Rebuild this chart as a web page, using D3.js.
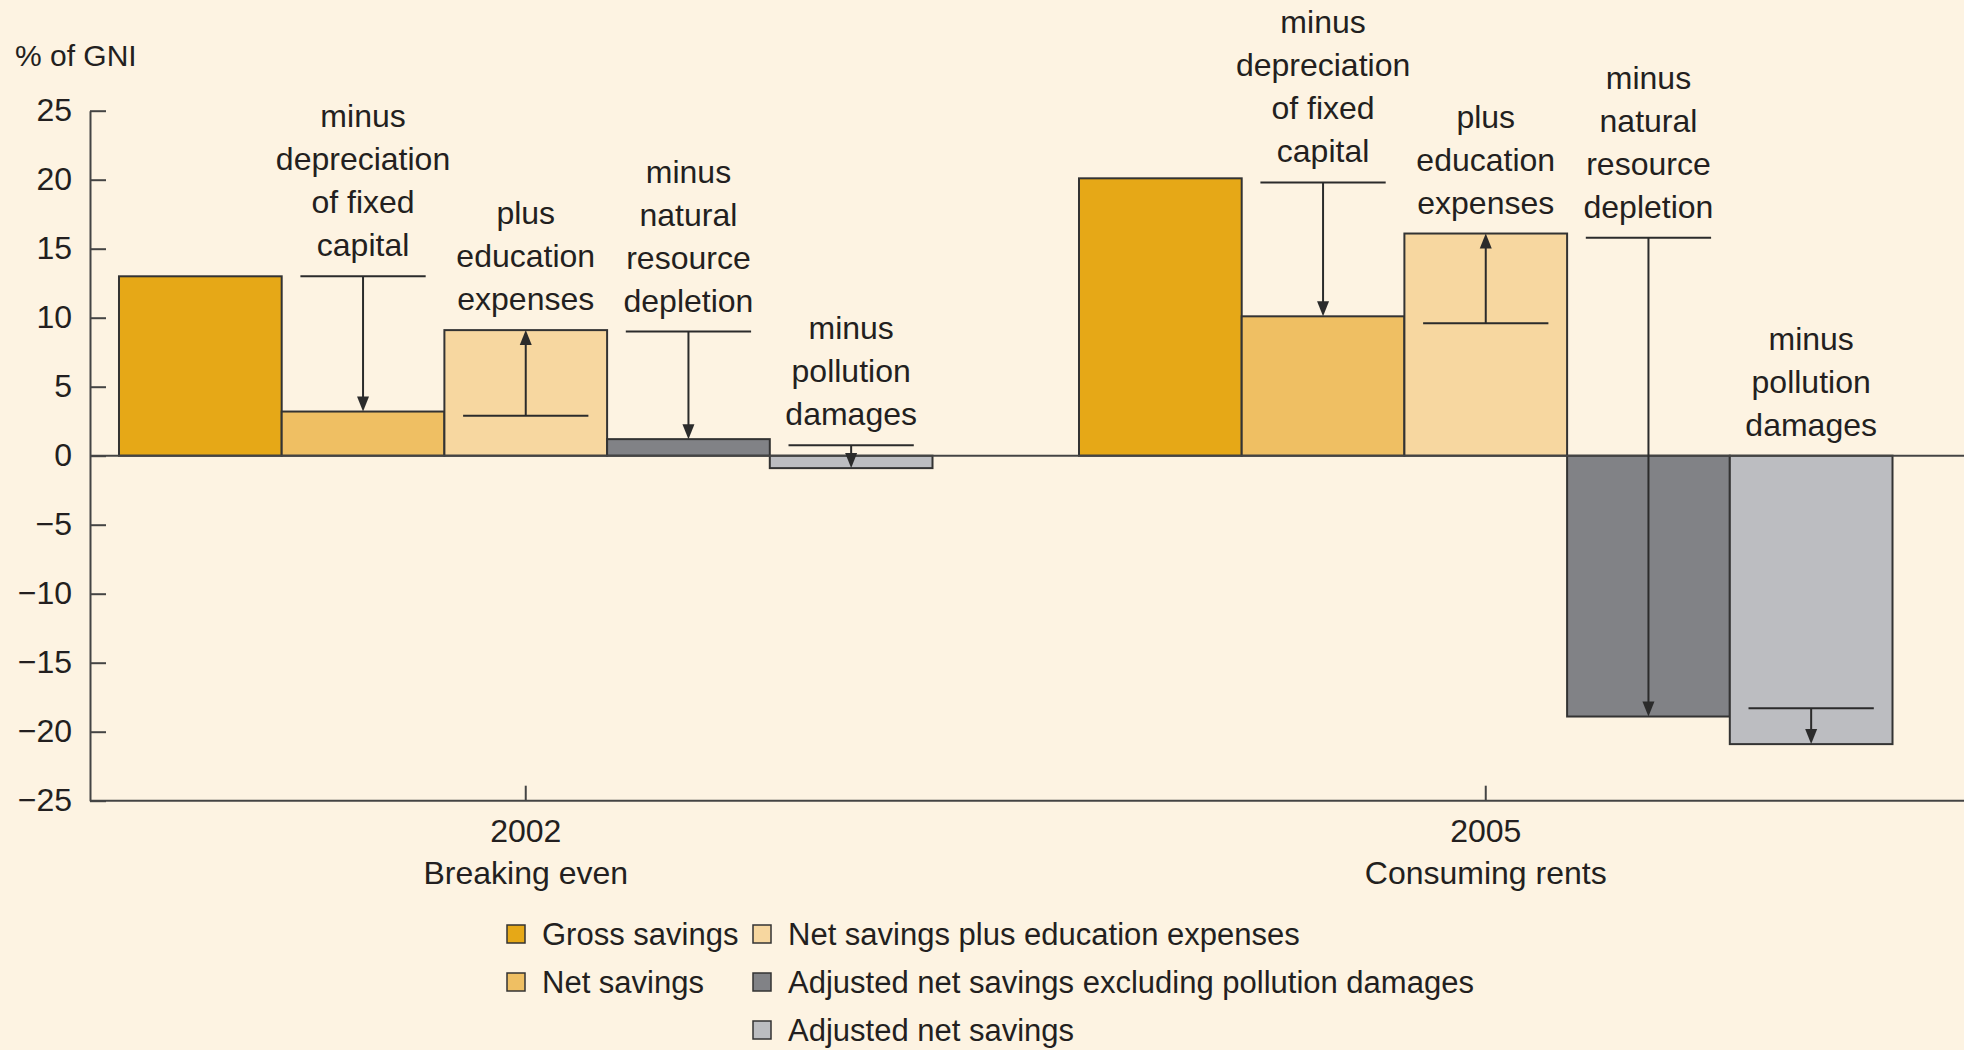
<!DOCTYPE html>
<html><head><meta charset="utf-8">
<script src="https://cdn.jsdelivr.net/npm/d3@7"></script>
<style>
body{margin:0;background:#FDF3E2;}
svg{display:block}
text{font-family:"Liberation Sans",Arial,sans-serif;fill:#231F20}
</style>
</head><body><svg id="c" width="1964" height="1050"></svg>
<script>
// ---- data ----
const categories = ["2002", "2005"];
const categorySubtitles = ["Breaking even", "Consuming rents"];
const seriesNames = ["Gross savings", "Net savings", "Net savings plus education expenses",
  "Adjusted net savings excluding pollution damages", "Adjusted net savings"];
const values2002 = [13.0, 3.2, 9.1, 1.2, -0.9];
const values2005 = [20.1, 10.1, 16.1, -18.9, -20.9];
const yTicks = [25, 20, 15, 10, 5, 0, -5, -10, -15, -20, -25];
const annotationLabels = [
  ["minus", "depreciation", "of fixed", "capital"],
  ["plus", "education", "expenses"],
  ["minus", "natural", "resource", "depletion"],
  ["minus", "pollution", "damages"]
];
const arrowFrom2002 = [13.0, 2.9, 9.0, 0.75];
const arrowFrom2005 = [19.8, 9.6, 15.8, -18.3];
const colors = ["#E6A817", "#EFBF63", "#F7D7A0", "#818286", "#BCBDC1"];
const yLabel = "% of GNI";

// ---- setup ----
const W = 1964, H = 1050;
const svg = d3.select("#c");
svg.append("rect").attr("width", W).attr("height", H).attr("fill", "#FDF3E2");
const ink = "#2b2b2b";
const FS = 32;

const y = d3.scaleLinear().domain([-25, 25]).range([800.7, 110.7]);
const x0 = d3.scaleBand().domain(categories).range([90, 1921.5]).paddingInner(0.1526).paddingOuter(0.0302);
const x1 = d3.scaleBand().domain(d3.range(seriesNames.length)).range([0, x0.bandwidth()]);

const valuesByCat = {"2002": values2002, "2005": values2005};
const fromByCat = {"2002": arrowFrom2002, "2005": arrowFrom2005};

// y axis
const yAxis = d3.axisLeft(y).tickValues(yTicks).tickSize(-16).tickSizeOuter(0).tickPadding(18)
  .tickFormat(d3.format("d"));
const gy = svg.append("g").attr("transform", "translate(90,0)").call(yAxis);
gy.selectAll("path,line").attr("stroke", "#444").attr("stroke-width", 2);
gy.selectAll("text").attr("font-size", FS).attr("font-family", '"Liberation Sans",Arial,sans-serif').attr("fill", "#231F20");

svg.append("text").attr("x", 15).attr("y", 66).attr("font-size", FS - 2).text(yLabel);

// bars
const groups = svg.append("g").selectAll("g").data(categories).join("g")
  .attr("transform", d => `translate(${x0(d)},0)`);
groups.selectAll("rect").data(c => valuesByCat[c].map((v, i) => ({v, i})))
  .join("rect")
  .attr("x", d => x1(d.i))
  .attr("width", x1.bandwidth())
  .attr("y", d => y(Math.max(0, d.v)))
  .attr("height", d => Math.abs(y(d.v) - y(0)))
  .attr("fill", d => colors[d.i])
  .attr("stroke", "#333").attr("stroke-width", 2);

// zero line
svg.append("line").attr("x1", 90).attr("x2", W).attr("y1", y(0)).attr("y2", y(0))
  .attr("stroke", "#444").attr("stroke-width", 2);

// bottom axis
const xAxis = d3.axisBottom(x0).tickSize(-15).tickSizeOuter(0).tickFormat("");
const gx = svg.append("g").attr("transform", `translate(0,${y(-25)})`).call(xAxis);
gx.select(".domain").remove();
gx.selectAll("line").attr("stroke", "#444").attr("stroke-width", 2);
svg.append("line").attr("x1", 90).attr("x2", W).attr("y1", y(-25)).attr("y2", y(-25))
  .attr("stroke", "#444").attr("stroke-width", 2);
categories.forEach((c, i) => {
  const cx = x0(c) + x0.bandwidth() / 2;
  svg.append("text").attr("x", cx).attr("y", 842).attr("text-anchor", "middle").attr("font-size", FS).text(c);
  svg.append("text").attr("x", cx).attr("y", 884).attr("text-anchor", "middle").attr("font-size", FS).text(categorySubtitles[i]);
});

// annotations
const ann = svg.append("g");
categories.forEach(c => {
  const vals = valuesByCat[c], froms = fromByCat[c];
  annotationLabels.forEach((lines, k) => {
    const si = k + 1;
    const cx = x0(c) + x1(si) + x1.bandwidth() / 2;
    const halfW = x1.bandwidth() * 0.385;
    const yFrom = y(froms[k]);
    const yTo = y(vals[si]);
    const dir = yTo > yFrom ? 1 : -1; // 1 = downwards
    ann.append("line").attr("x1", cx - halfW).attr("x2", cx + halfW).attr("y1", yFrom).attr("y2", yFrom)
      .attr("stroke", ink).attr("stroke-width", 2);
    ann.append("line").attr("x1", cx).attr("x2", cx).attr("y1", yFrom).attr("y2", yTo - dir * 10)
      .attr("stroke", ink).attr("stroke-width", 2);
    const ah = 15, aw = 6;
    ann.append("path")
      .attr("d", `M${cx - aw},${yTo - dir * ah}L${cx + aw},${yTo - dir * ah}L${cx},${yTo}Z`)
      .attr("fill", ink);
    const base = y(Math.max(froms[k], vals[si], 0)) - 20;
    lines.forEach((t, j) => {
      ann.append("text").attr("x", cx).attr("y", base - (lines.length - 1 - j) * 43)
        .attr("text-anchor", "middle").attr("font-size", FS).text(t);
    });
  });
});

// legend (column-major)
const legendCols = [507, 753];
const legendRows = [934, 982, 1030];
const legendPos = [[0, 0], [0, 1], [1, 0], [1, 1], [1, 2]];
const lg = svg.append("g");
seriesNames.forEach((name, i) => {
  const [ci, ri] = legendPos[i];
  const lx = legendCols[ci], ly = legendRows[ri];
  lg.append("rect").attr("x", lx).attr("y", ly - 9).attr("width", 18).attr("height", 18)
    .attr("fill", colors[i]).attr("stroke", "#333").attr("stroke-width", 1.5);
  lg.append("text").attr("x", lx + 35).attr("y", ly).attr("dy", "0.35em").attr("font-size", FS - 1).text(name);
});
</script>
</body></html>
